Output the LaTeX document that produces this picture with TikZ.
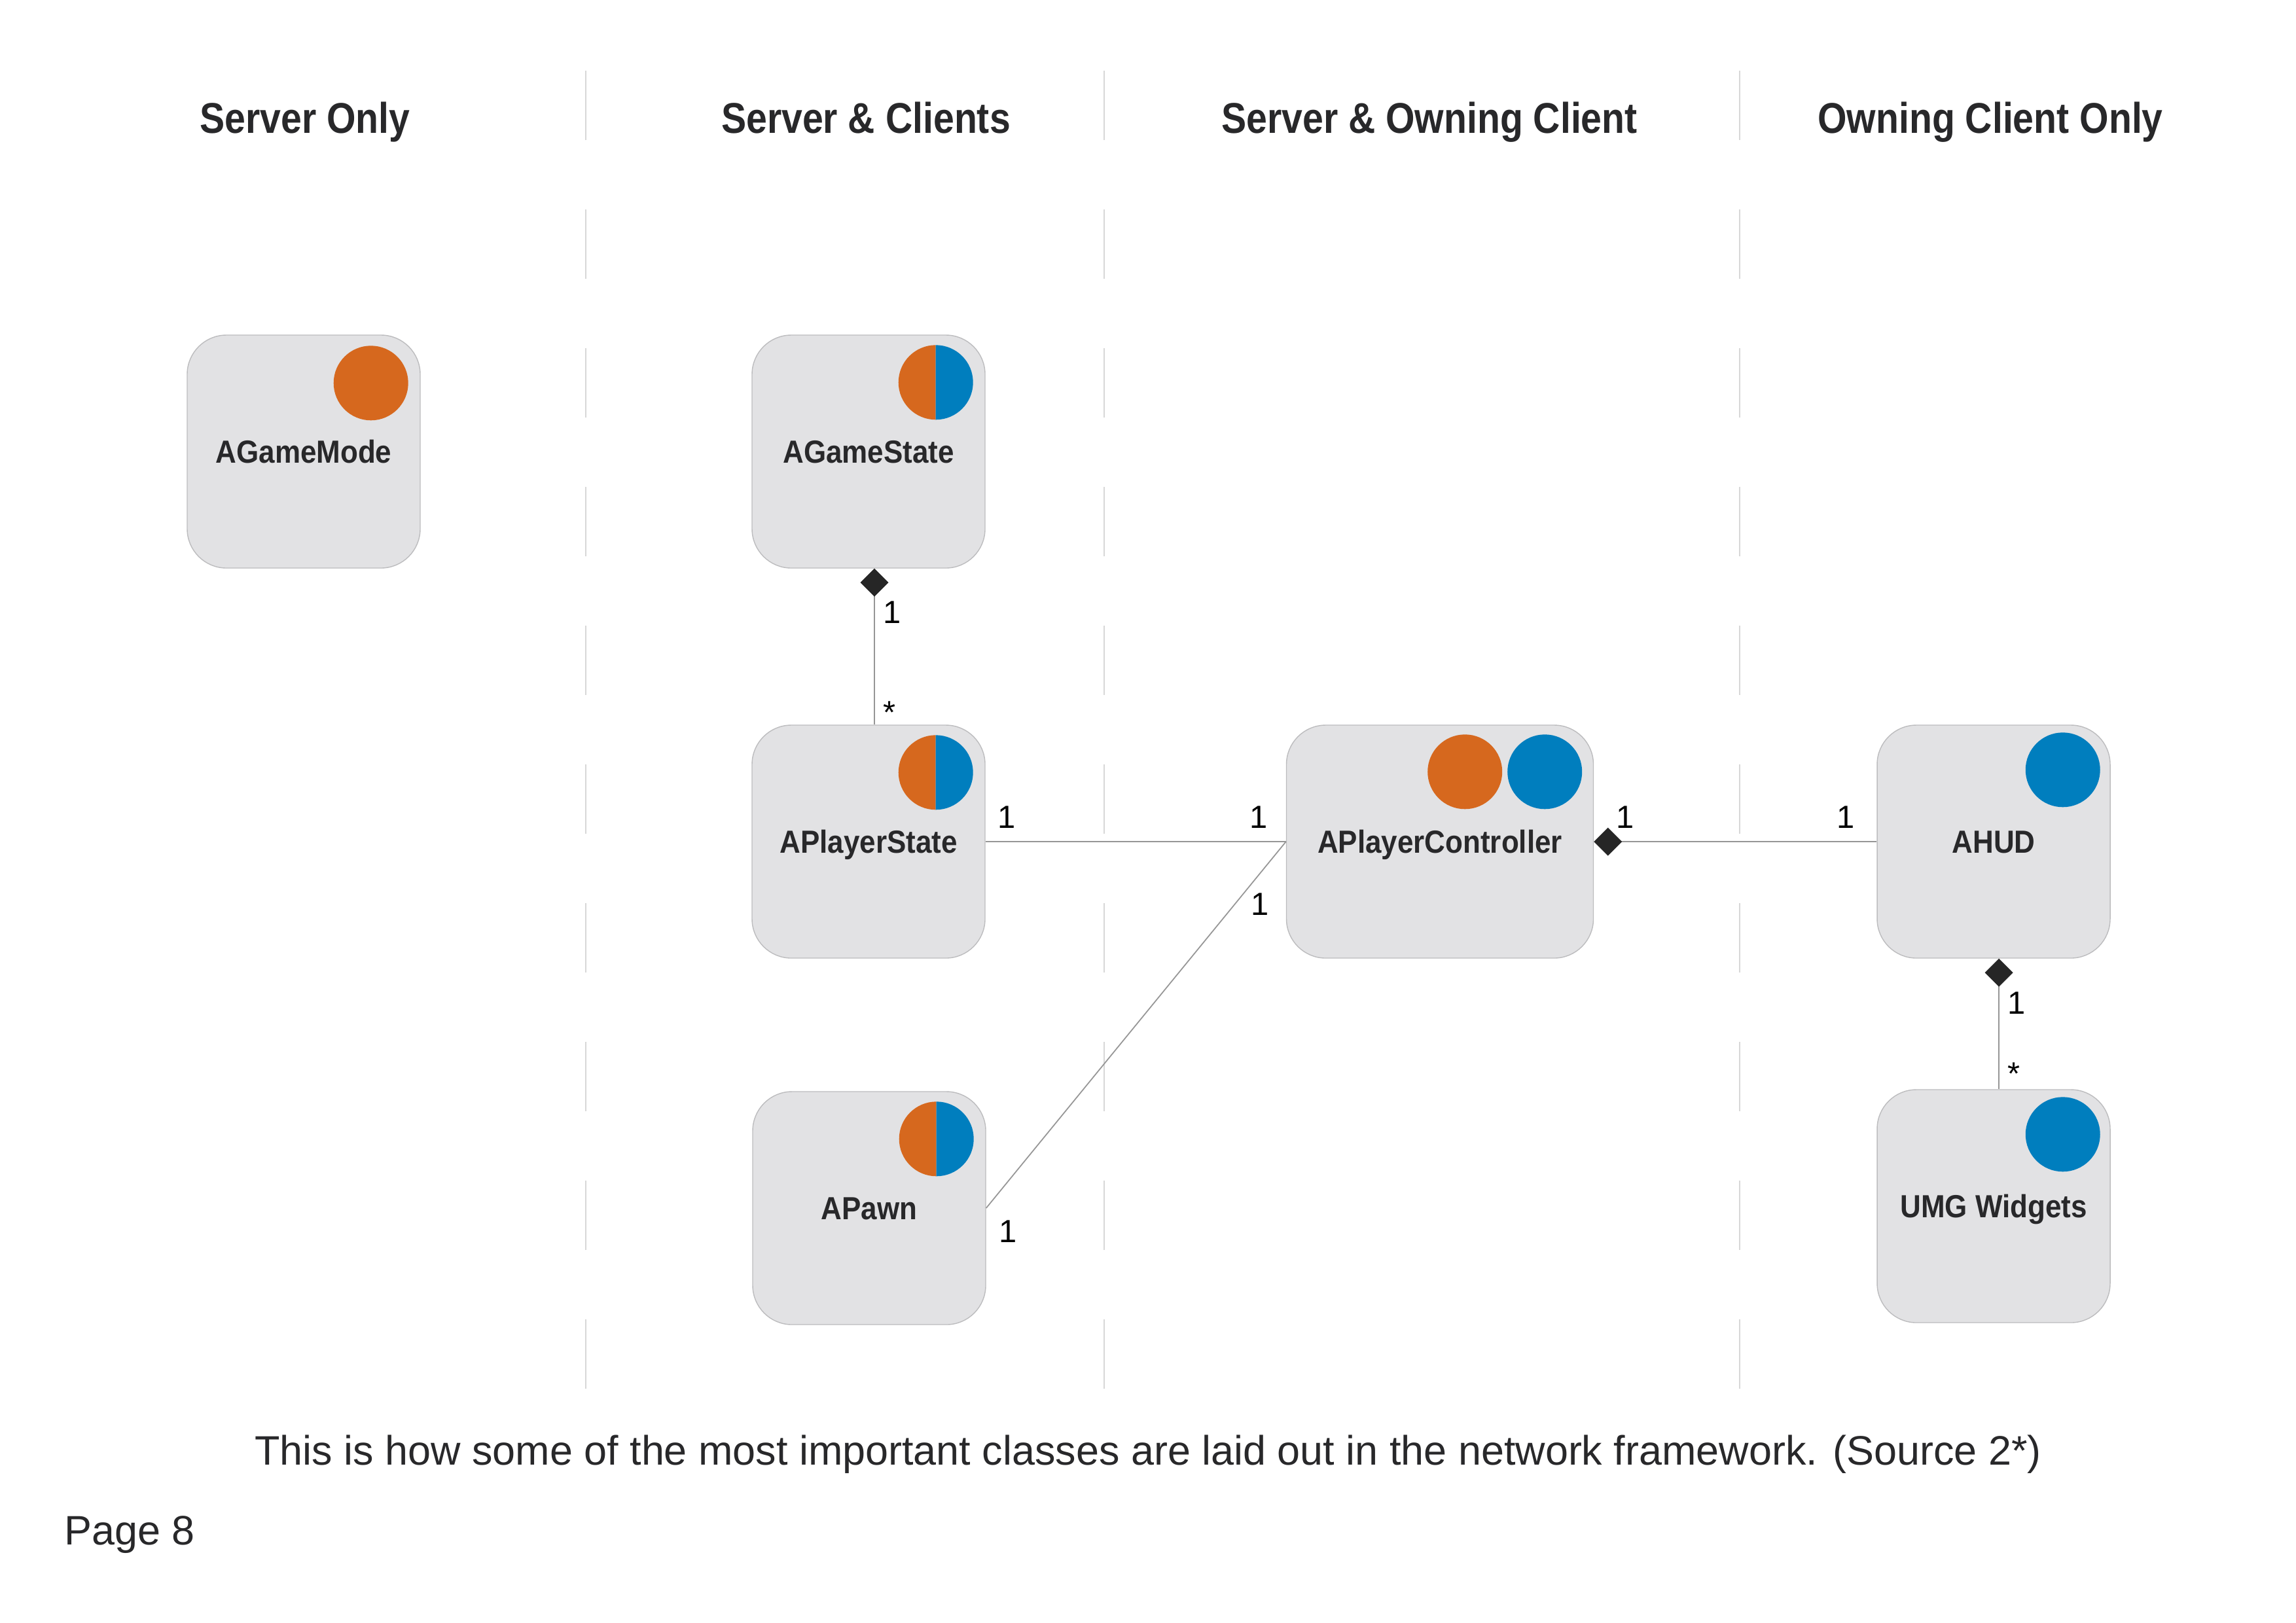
\documentclass[tikz,border=0pt]{standalone}
\usepackage{fontspec}
\setmainfont{Liberation Sans}
\newfontfamily\boxfont{Liberation Sans}[FakeStretch=0.9]
\newfontfamily\headfont{Liberation Sans}[FakeStretch=0.87]
\usepackage{tikz}
\usetikzlibrary{arrows.meta, positioning}
\usepackage{xcolor}
\definecolor{serverorange}{RGB}{214,104,30}
\definecolor{clientblue}{RGB}{0,126,190}
\definecolor{boxgray}{RGB}{226,226,228}
\definecolor{boxline}{RGB}{188,188,190}
\definecolor{textdark}{RGB}{40,40,42}
\definecolor{linkgray}{RGB}{150,150,150}
\definecolor{sepgray}{RGB}{215,215,215}

\tikzset{
  classbox/.style={rectangle, rounded corners=0.6cm, fill=boxgray, draw=boxline,
    line width=0.4pt, minimum width=3.56cm, minimum height=3.56cm, inner sep=0pt,
    text=textdark, font=\boxfont\fontsize{13.9}{16}\selectfont\bfseries,
    text height=3.5mm, text depth=0pt},
  link/.style={draw=linkgray, line width=0.5pt},
  owns/.style={link, {Diamond[length=4.3mm, width=4.3mm, color=black!85]}-},
  mult/.style={inner sep=0pt, font=\fontsize{13.9}{16}\selectfont, text=black},
  colhead/.style={anchor=base, text=textdark,
    font=\headfont\fontsize{18.7}{22}\selectfont\bfseries},
}

\begin{document}
\begin{tikzpicture}[x=1cm, y=1cm]
\useasboundingbox (0,0) rectangle (35.08,-24.79);

% ── Spaltentrenner ───────────────────────────────────────────────────
\foreach \x in {8.95, 16.87, 26.58}
  \draw[sepgray, line width=0.4pt, dash pattern=on 1.06cm off 1.06cm]
    (\x,-1.08) -- (\x,-21.22);

% ── Spaltenköpfe ─────────────────────────────────────────────────────
\foreach \x/\name/\txt in {4.66/hsrv/Server Only,
                           13.23/hall/Server \& Clients,
                           21.84/hown/Server \& Owning Client,
                           30.41/hcli/Owning Client Only}
  \node[colhead] (\name) at (\x,-2.03) {\txt};

% ── Klassen ──────────────────────────────────────────────────────────
\node[classbox] (gamemode)    at (4.64,-6.90)  {AGameMode};
\node[classbox] (gamestate)   at (13.27,-6.90) {AGameState};
\node[classbox] (playerstate) at (13.27,-12.86) {APlayerState};
\node[classbox] (pawn)        at (13.28,-18.46) {APawn};
\node[classbox, minimum width=4.69cm] (controller) at (22.00,-12.86) {APlayerController};
\node[classbox] (hud)         at (30.46,-12.86) {AHUD};
\node[classbox] (widgets)     at (30.46,-18.43) {UMG Widgets};

% ── Punkte: orange = Server, blau = Client ───────────────────────────
\fill[serverorange] ([shift={(-0.76,-0.74)}]gamemode.north east) circle (0.57);
\foreach \b in {gamestate, playerstate, pawn} {
  \fill[serverorange] ([shift={(-0.76,-0.16)}]\b.north east)
    arc[start angle=90, end angle=270, radius=0.57] -- cycle;
  \fill[clientblue]   ([shift={(-0.76,-0.16)}]\b.north east)
    arc[start angle=90, end angle=-90, radius=0.57] -- cycle;
}
\fill[serverorange] ([shift={(-1.97,-0.72)}]controller.north east) circle (0.57);
\fill[clientblue]   ([shift={(-0.75,-0.72)}]controller.north east) circle (0.57);
\foreach \b in {hud, widgets}
  \fill[clientblue] ([shift={(-0.73,-0.69)}]\b.north east) circle (0.57);

% ── Beziehungen ──────────────────────────────────────────────────────
\draw[owns] ([xshift=0.09cm]gamestate.south) -- ([xshift=0.09cm]playerstate.north)
  node[mult, pos=0.28, right=1.3mm] (gsone) {1}
  node[mult, pos=0.92, right=1.3mm] (gsmany) {*};

\draw[link] (playerstate) -- (controller)
  node[mult, pos=0.07, above=2mm] (psone) {1}
  node[mult, pos=0.91, above=2mm] (pcone) {1};

\draw[link] (pawn.east) -- (controller.west)
  node[mult, pos=0, anchor=north west, shift={(0.19,-0.18)}] (pwone) {1}
  node[mult, pos=0.86, anchor=north west, xshift=1mm] (pctwo) {1};

\draw[owns] (controller) -- (hud)
  node[mult, pos=0.11, above=2mm] (pcthree) {1}
  node[mult, pos=0.89, above=2mm] (hudone) {1};

\draw[owns] ([xshift=0.08cm]hud.south) -- ([xshift=0.08cm]widgets.north)
  node[mult, pos=0.34, right=1.3mm] (hudtwo) {1}
  node[mult, pos=0.88, right=1.3mm] (wdmany) {*};

% ── Bildunterschrift ─────────────────────────────────────────────────
\node[anchor=base, font=\fontsize{17.9}{21}\selectfont, text=textdark] (caption)
  at (17.54,-22.38)
  {This is how some of the most important classes are laid out in the network framework. (Source 2*)};
\node[anchor=base west, font=\fontsize{17.9}{21}\selectfont, text=textdark] (page)
  at (0.86,-23.60) {Page 8};

\end{tikzpicture}
\end{document}
